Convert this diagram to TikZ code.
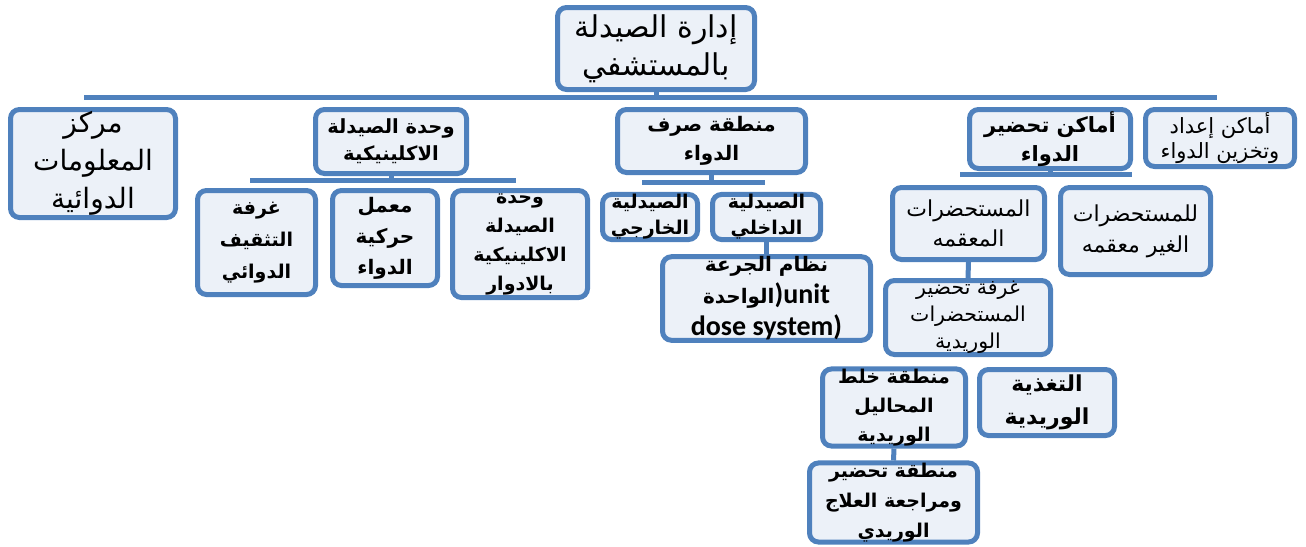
\documentclass[tikz,border=0pt]{standalone}
\usepackage{fontspec}
\setmainfont{DejaVu Sans}
\newfontfamily\arabicfont[Script=Arabic]{DejaVu Sans}
\newfontfamily\latinfont{Carlito}
\TeXXeTstate=1
\newcommand\AR[1]{\beginR #1\endR}
\newcommand\fs[2]{\fontsize{#1}{#2}\selectfont}
\definecolor{blu}{RGB}{79,129,189}
\definecolor{fil}{RGB}{236,241,248}
\tikzset{
  bx/.style={draw=blu, line width=5pt, rounded corners=9pt, fill=fil, inner sep=0pt, align=center, text=black},
  bus/.style={draw=blu, line width=5pt},
}
\begin{document}
\begin{tikzpicture}[x=1pt,y=-1pt]
\useasboundingbox (0,0) rectangle (1306,546);
% buses
\coordinate (m1) at (84,97);   \coordinate (m2) at (1217,97);
\coordinate (b1) at (250,180); \coordinate (b2) at (516,180);
\coordinate (c1) at (642,182); \coordinate (c2) at (765,182);
\coordinate (d1) at (960,174); \coordinate (d2) at (1132,174);
\draw[bus] (m1) -- (m2);
\draw[bus] (b1) -- (b2);
\draw[bus] (c1) -- (c2);
\draw[bus] (d1) -- (d2);
% nodes
\node[bx, minimum width=197pt, minimum height=82pt, font=\arabicfont\fs{30}{38}] (top) at (656,48.5) {\AR{إدارة الصيدلة}\\\AR{بالمستشفي}};
\node[bx, minimum width=165pt, minimum height=108pt, font=\arabicfont\fs{28}{38}] (markaz) at (93,163.5) {\AR{مركز}\\\AR{المعلومات}\\\AR{الدوائية}};
\node[bx, minimum width=151pt, minimum height=64pt, font=\arabicfont\bfseries\fs{19.5}{27}] (wahda) at (391,141.5) {\AR{وحدة الصيدلة}\\\AR{الاكلينيكية}};
\node[bx, minimum width=188pt, minimum height=63pt, font=\arabicfont\bfseries\fs{20}{29}] (sarf) at (711.5,141) {\AR{منطقة صرف}\\\AR{الدواء}};
\node[bx, minimum width=161pt, minimum height=59pt, font=\arabicfont\bfseries\fs{21}{29}] (tahdir) at (1050,139) {\AR{أماكن تحضير}\\\AR{الدواء}};
\node[bx, minimum width=149pt, minimum height=57pt, font=\arabicfont\fs{21}{25}] (iadad) at (1220,138) {\AR{أماكن إعداد}\\\AR{وتخزين الدواء}};
\node[bx, minimum width=118pt, minimum height=104pt, font=\arabicfont\bfseries\fs{19}{32}] (tathqif) at (256.5,242.5) {\AR{غرفة}\\\AR{التثقيف}\\\AR{الدوائي}};
\node[bx, minimum width=105pt, minimum height=95pt, font=\arabicfont\bfseries\fs{20}{31}] (maamal) at (385,238) {\AR{معمل}\\\AR{حركية}\\\AR{الدواء}};
\node[bx, minimum width=135pt, minimum height=107pt, font=\arabicfont\bfseries\fs{19}{29}] (adwar) at (520,244) {\AR{وحدة}\\\AR{الصيدلة}\\\AR{الاكلينيكية}\\\AR{بالادوار}};
\node[bx, minimum width=95pt, minimum height=45pt, font=\arabicfont\bfseries\fs{19}{26}] (kharji) at (650,217) {\AR{الصيدلية}\\\AR{الخارجي}};
\node[bx, minimum width=108pt, minimum height=45pt, font=\arabicfont\bfseries\fs{19}{26}] (dakhili) at (766.5,217) {\AR{الصيدلية}\\\AR{الداخلي}};
\node[bx, minimum width=208pt, minimum height=78pt, font=\arabicfont\bfseries\fs{20}{32}] (nizam) at (766.5,298.5) {\AR{نظام الجرعة}\\\AR{الواحدة}{\latinfont\bfseries\fs{28}{32})unit}\\{\latinfont\bfseries\fs{28}{32}dose system)}};
\node[bx, minimum width=152pt, minimum height=72pt, font=\arabicfont\fs{22}{30}] (muaqqama) at (968.5,223.5) {\AR{المستحضرات}\\\AR{المعقمه}};
\node[bx, minimum width=150pt, minimum height=87pt, font=\arabicfont\fs{22}{31}] (ghair) at (1135.5,231) {\AR{للمستحضرات}\\\AR{الغير معقمه}};
\node[bx, minimum width=165pt, minimum height=74pt, font=\arabicfont\fs{20.5}{27}] (wareed) at (968,317.5) {\AR{غرفة تحضير}\\\AR{المستحضرات}\\\AR{الوريدية}};
\node[bx, minimum width=143pt, minimum height=76pt, font=\arabicfont\bfseries\fs{19}{29}] (khalt) at (894,407.5) {\AR{منطقة خلط}\\\AR{المحاليل}\\\AR{الوريدية}};
\node[bx, minimum width=135pt, minimum height=66pt, font=\arabicfont\bfseries\fs{22}{33}] (taghdhiya) at (1047,402.5) {\AR{التغذية}\\\AR{الوريدية}};
\node[bx, minimum width=168pt, minimum height=76pt, font=\arabicfont\bfseries\fs{19}{30}] (muraja) at (893.5,502.5) {\AR{منطقة تحضير}\\\AR{ومراجعة العلاج}\\\AR{الوريدي}};
% stubs / connectors
\draw[bus] (top.south) -- (top.south |- m1);
\draw[bus] (wahda.south) -- (wahda.south |- b1);
\draw[bus] (sarf.south) -- (sarf.south |- c1);
\draw[bus] (tahdir.south) -- (tahdir.south |- d1);
\draw[bus] (dakhili.south) -- (nizam.north);
\draw[bus] (muaqqama.south) -- (wareed.north);
\draw[bus] (khalt.south) -- (muraja.north);
\end{tikzpicture}
\end{document}
